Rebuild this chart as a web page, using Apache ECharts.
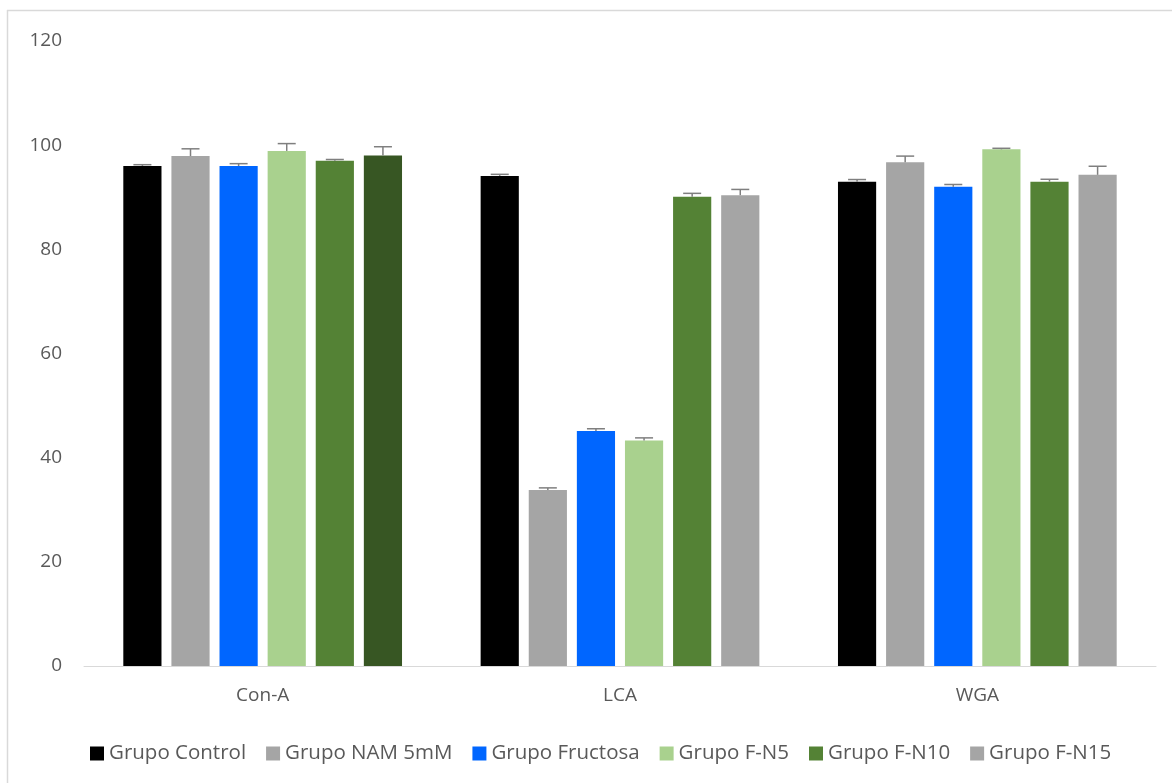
<!DOCTYPE html>
<html>
<head>
<meta charset="utf-8">
<script src="https://cdn.jsdelivr.net/npm/echarts@6/dist/echarts.min.js"></script>
<style>
html,body{margin:0;padding:0;background:#fff;}
#main{width:1172px;height:783px;}
</style>
</head>
<body>
<div id="main"></div>
<script>
const categories = ['Con-A', 'LCA', 'WGA'];
const seriesNames = ['Grupo Control', 'Grupo NAM 5mM', 'Grupo Fructosa', 'Grupo F-N5', 'Grupo F-N10', 'Grupo F-N15'];
const control = [96.0, 94.1, 93.0];
const nam = [97.9, 33.8, 96.7];
const fructosa = [96.0, 45.1, 92.0];
const fn5 = [98.9, 43.3, 99.2];
const fn10 = [97.0, 90.1, 93.0];
const fn15 = [98.0, 90.4, 94.3];
const errControl = [0.25, 0.3, 0.4];
const errNam = [1.4, 0.4, 1.2];
const errFructosa = [0.45, 0.45, 0.45];
const errFn5 = [1.4, 0.5, 0.2];
const errFn10 = [0.25, 0.65, 0.45];
const errFn15 = [1.7, 1.1, 1.65];
const yTicks = [0, 20, 40, 60, 80, 100, 120];

const values = [control, nam, fructosa, fn5, fn10, fn15];
const errors = [errControl, errNam, errFructosa, errFn5, errFn10, errFn15];
const colors = ['#000000', '#a5a5a5', '#0066ff', '#a9d18e', '#548235', '#a5a5a5'];
const conAFn15Color = '#375623';

const CAT_GAP = 0.22, BAR_GAP = 0.26, N = 6;
const FONT = 'Open Sans';

const chart = echarts.init(document.getElementById('main'));

const barSeries = values.map((vals, i) => ({
  name: seriesNames[i],
  type: 'bar',
  barCategoryGap: (CAT_GAP * 100) + '%',
  barGap: (BAR_GAP * 100) + '%',
  itemStyle: { color: colors[i] },
  data: vals.map((v, j) => (i === 5 && j === 0) ? { value: v, itemStyle: { color: conAFn15Color } } : v),
  z: 2
}));

const errSeries = {
  type: 'custom',
  name: 'err',
  z: 5,
  silent: true,
  data: (() => {
    const d = [];
    for (let i = 0; i < N; i++) for (let j = 0; j < categories.length; j++) d.push([j, values[i][j], errors[i][j], i]);
    return d;
  })(),
  renderItem: function (params, api) {
    const cat = api.value(0), v = api.value(1), e = api.value(2), idx = api.value(3);
    const band = api.size([1, 0])[0];
    const used = band * (1 - CAT_GAP);
    const bw = used / (N + (N - 1) * BAR_GAP);
    const center = api.coord([cat, 0])[0];
    const x = center - used / 2 + idx * bw * (1 + BAR_GAP) + bw / 2;
    const y0 = api.coord([cat, v])[1];
    const y1 = api.coord([cat, v + e])[1];
    const cap = 9;
    const style = { stroke: '#7f7f7f', lineWidth: 1.5 };
    return {
      type: 'group',
      children: [
        { type: 'line', shape: { x1: x, y1: y0, x2: x, y2: y1 }, style: style },
        { type: 'line', shape: { x1: x - cap, y1: y1, x2: x + cap, y2: y1 }, style: style }
      ]
    };
  }
};

chart.setOption({
  backgroundColor: '#ffffff',
  animation: false,
  graphic: [
    { type: 'line', shape: { x1: 7, y1: 10.5, x2: 1172, y2: 10.5 }, style: { stroke: '#d9d9d9', lineWidth: 1.5 } },
    { type: 'line', shape: { x1: 7.5, y1: 10, x2: 7.5, y2: 783 }, style: { stroke: '#d9d9d9', lineWidth: 1.5 } }
  ],
  grid: { left: 84, right: 16, top: 41, bottom: 117, containLabel: false },
  legend: {
    data: seriesNames,
    top: 738,
    left: 85,
    icon: 'rect',
    itemWidth: 14,
    itemHeight: 14,
    itemGap: 20,
    textStyle: { color: '#595959', fontSize: 20.5, fontFamily: FONT }
  },
  xAxis: {
    type: 'category',
    data: categories,
    axisLine: { lineStyle: { color: '#d9d9d9', width: 1 } },
    axisTick: { show: false },
    axisLabel: { color: '#595959', fontSize: 19, fontFamily: FONT, margin: 20 }
  },
  yAxis: {
    type: 'value',
    min: 0,
    max: 120,
    interval: 20,
    axisLine: { show: false },
    axisTick: { show: false },
    splitLine: { show: false },
    axisLabel: { color: '#595959', fontSize: 19, fontFamily: FONT, margin: 22,
      formatter: v => yTicks.includes(v) ? String(v) : '' }
  },
  series: [...barSeries, errSeries]
});
</script>
</body>
</html>
